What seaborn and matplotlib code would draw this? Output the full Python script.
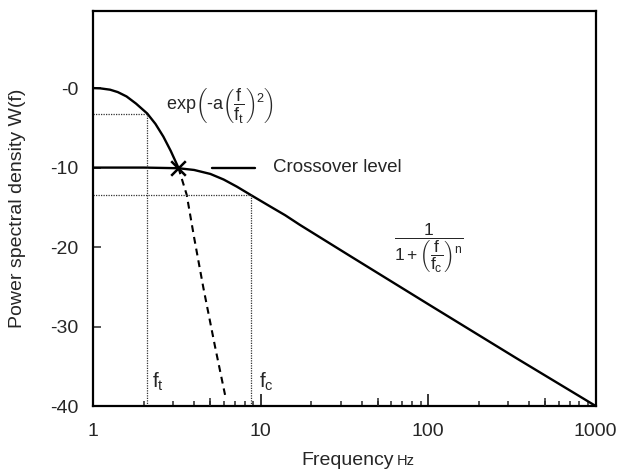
import matplotlib
matplotlib.use("Agg")
import matplotlib.pyplot as plt
import matplotlib.ticker as mticker
import matplotlib.transforms as mtransforms
import pandas as pd
import seaborn as sns

# ---- data (levels in dB) -------------------------------------------------
# power-law spectrum 1 / (1 + (f/fc)^n), sitting at the crossover level
powerlaw_freq = [1, 2, 3.22, 4, 5, 6, 7.2, 8.8, 11.4, 14, 17.1, 34, 102, 337, 1000]
powerlaw_level = [-10, -10, -10.08, -10.3, -10.8, -11.5, -12.4, -13.5, -14.9,
                  -16.0, -17.2, -21.1, -27.3, -34.0, -40]

# Gaussian roll-off exp(-a (f/ft)^2) up to the crossover point
gauss_freq = [1, 1.1, 1.26, 1.4, 1.58, 1.8, 2.1, 2.35, 2.62, 2.9, 3.22]
gauss_level = [0, -0.03, -0.2, -0.5, -1.05, -1.95, -3.2, -4.5, -6.1, -7.9, -10.0]

# continuation of the Gaussian below the crossover (dashed)
gauss_tail_freq = [3.22, 3.61, 4.0, 4.54, 5.33, 6.12]
gauss_tail_level = [-10.0, -13.4, -18.8, -25.1, -32.5, -38.6]

crossover_freq, crossover_level = 3.22, -10.0
ft_freq, ft_level = 2.1, -3.2
fc_freq, fc_level = 8.8, -13.5

xtick_values = [1, 10, 100, 1000]
xtick_labels = ["1", "10", "100", "1000"]
xtick_mid = [5, 50, 500]
ytick_values = [-40, -30, -20, -10, 0]
ytick_labels = ["-40", "-30", "-20", "-10", "-0"]

# ---- style ---------------------------------------------------------------
sns.set_style("white")
plt.rcParams["font.family"] = ["Liberation Sans", "DejaVu Sans"]
plt.rcParams["mathtext.fontset"] = "custom"
plt.rcParams["mathtext.rm"] = "Liberation Sans"
plt.rcParams["mathtext.it"] = "Liberation Sans"
plt.rcParams["mathtext.sf"] = "Liberation Sans"
plt.rcParams["mathtext.bf"] = "Liberation Sans:bold"

fig = plt.figure(figsize=(6.17, 4.71), dpi=100)
ax = fig.add_axes([0.1512, 0.138, 0.8143, 0.8386])
ax.set_xscale("log")

powerlaw = pd.DataFrame({"freq": powerlaw_freq, "level": powerlaw_level})
gauss = pd.DataFrame({"freq": gauss_freq, "level": gauss_level})
tail = pd.DataFrame({"freq": gauss_tail_freq, "level": gauss_tail_level})

sns.lineplot(data=powerlaw, x="freq", y="level", ax=ax, color="black",
             lw=1.7, estimator=None)
sns.lineplot(data=gauss, x="freq", y="level", ax=ax, color="black",
             lw=1.7, estimator=None)
sns.lineplot(data=tail, x="freq", y="level", ax=ax, color="black",
             lw=1.5, estimator=None, linestyle=(0, (3.3, 2.4)))

# crossover marker
sns.scatterplot(x=[crossover_freq], y=[crossover_level], ax=ax, marker="x",
                s=110, color="black", linewidth=1.8, zorder=5)

# dotted guide lines for ft and fc
dot = dict(color="#333333", lw=0.9, linestyle=(0, (1, 1)))
ax.plot([1, ft_freq], [ft_level, ft_level], **dot)
ax.plot([ft_freq, ft_freq], [-40, ft_level], **dot)
ax.plot([1, fc_freq], [fc_level, fc_level], **dot)
ax.plot([fc_freq, fc_freq], [-40, fc_level], **dot)

ax.set_xlim(1, 1000)
ax.set_ylim(-40, 9.7)

# ---- annotations ---------------------------------------------------------
blend = mtransforms.blended_transform_factory(ax.transAxes, ax.transData)
ax.plot([0.236, 0.322], [crossover_level - 0.1] * 2, transform=blend,
        color="black", lw=1.7)
ax.text(0.358, crossover_level, "Crossover level", transform=blend,
        ha="left", va="center", fontsize=13.5)

ax.text(0.252, 0.762,
        r"$\mathrm{exp}\left(\text{-}a\left(\dfrac{f}{f_t}\right)^2\right)$",
        transform=ax.transAxes, ha="center", va="center", fontsize=13)
ax.text(0.668, 0.400, r"$\dfrac{1}{1+\left(\dfrac{f}{f_c}\right)^n}$",
        transform=ax.transAxes, ha="center", va="center", fontsize=12.5)

ax.text(0.117, 0.062, r"$f_t$", transform=ax.transAxes, ha="left",
        va="center", fontsize=15)
ax.text(0.330, 0.062, r"$f_c$", transform=ax.transAxes, ha="left",
        va="center", fontsize=15)

# ---- axes ----------------------------------------------------------------
ax.set_xticks(xtick_values)
ax.set_xticklabels(xtick_labels)
ax.xaxis.set_minor_locator(mticker.LogLocator(base=10, subs=range(2, 10)))
ax.xaxis.set_minor_formatter(mticker.NullFormatter())
ax.set_yticks(ytick_values)
ax.set_yticklabels(ytick_labels)

ax.tick_params(axis="x", which="major", direction="in", length=9, width=1.3,
               pad=12, labelsize=14, bottom=True, top=False)
ax.tick_params(axis="x", which="minor", direction="in", length=3.6, width=1.1,
               bottom=True, top=False)
ax.tick_params(axis="y", which="major", direction="in", length=6, width=1.1,
               pad=11, labelsize=14, left=True, right=False)
ax.set_xlabel("")
ax.set_ylabel("")

# slightly longer ticks at 5, 50, 500
mid = ax.twiny()
mid.set_xscale("log")
mid.set_xlim(ax.get_xlim())
mid.xaxis.set_ticks_position("bottom")
mid.set_xticks(xtick_mid)
mid.xaxis.set_minor_locator(mticker.NullLocator())
mid.set_xticklabels([])
mid.tick_params(axis="x", direction="in", length=6, width=1.1, bottom=True,
                top=False)
for side in mid.spines:
    mid.spines[side].set_visible(False)

for side in ["left", "right", "top", "bottom"]:
    ax.spines[side].set_visible(True)
    ax.spines[side].set_color("black")
    ax.spines[side].set_linewidth(1.6)

fig.text(0.6385, 0.0135, "Frequency", ha="right", va="baseline", fontsize=14)
fig.text(0.6425, 0.0135, "Hz", ha="left", va="baseline", fontsize=10.5)
fig.text(0.029, 0.557, "Power spectral density W(f)", rotation=90,
         ha="center", va="center", fontsize=14)

fig.savefig("out.png", dpi=100)
